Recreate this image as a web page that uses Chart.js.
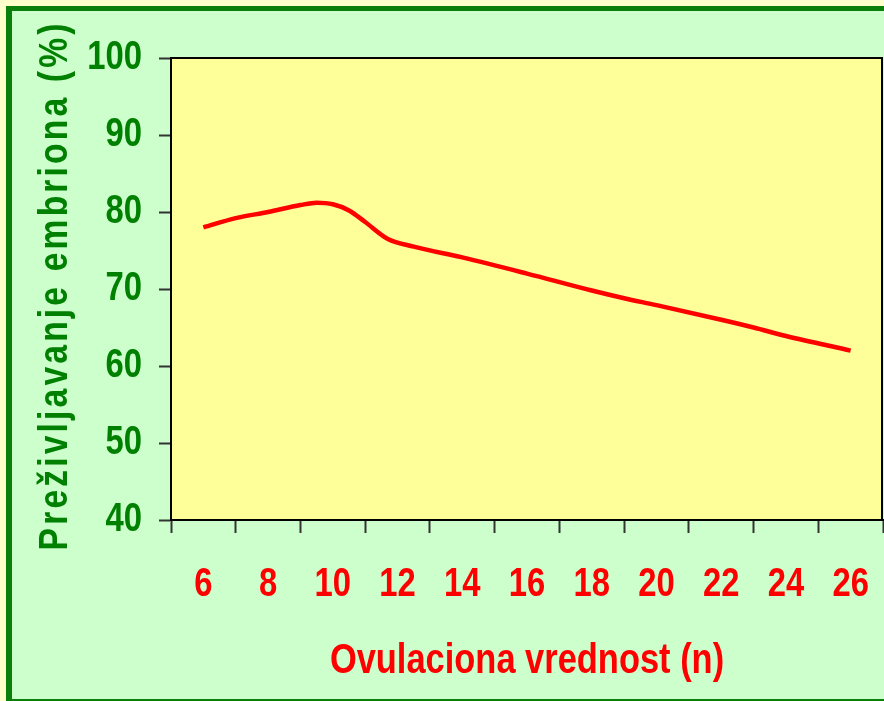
<!DOCTYPE html>
<html>
<head>
<meta charset="utf-8">
<script src="https://cdn.jsdelivr.net/npm/chart.js@4.4.1/dist/chart.umd.min.js"></script>
<style>
    html, body { margin: 0; padding: 0; background: #FFFFCC; overflow: hidden; }
    #okvir {
        position: absolute; left: 6px; top: 6px; width: 900px; height: 688px;
        background: #CCFFCC;
        border-left: 6px solid #0A800A; border-top: 5px solid #0A800A; border-bottom: 2px solid #0A800A;
    }
    #grafikWrap { position: absolute; left: 0; top: 0; width: 884px; height: 701px; }
</style>
</head>
<body>
<div id="okvir"></div>
<div id="grafikWrap"><canvas id="prezivljavanjeChart"></canvas></div>
<script>
// Ovulaciona vrednost (n) i preživljavanje embriona (%) očitano sa slike
const ovulacija = [6, 7, 8, 9, 9.5, 10, 10.5, 11, 11.7, 12.5, 14, 16, 18, 19, 20, 22, 23, 24, 26];
const prezivljavanje = [78.0, 79.2, 80.0, 80.9, 81.2, 81.0, 80.2, 78.7, 76.5, 75.5, 74.1, 72.0, 69.8, 68.8, 67.9, 66.0, 65.0, 63.9, 62.0];

const xOpseg = [5, 27];
const yOpseg = [40, 100];
const yKorak = 10;

const naslovX = 'Ovulaciona vrednost (n)';
const naslovY = 'Preživljavanje embriona (%)';

const ZELENA = '#008000';
const CRVENA = '#FF0000';
const FONT = "'Liberation Sans', Arial, sans-serif";
const SUZENJE = 0.82; // nema "Arial Narrow" pa tekst sužavam horizontalno

// Sav tekst na grafiku je uzak (Arial Narrow stil)
const uzakTekstPlugin = {
    id: 'uzakTekst',
    beforeInit(chart) {
        const ctx = chart.ctx;
        const orig = ctx.fillText;
        ctx.fillText = function (text, x, y, maxWidth) {
            this.save();
            this.translate(x, y);
            this.scale(SUZENJE, 1);
            if (maxWidth === undefined) orig.call(this, text, 0, 0);
            else orig.call(this, text, 0, 0, maxWidth / SUZENJE);
            this.restore();
        };
    }
};

// Žuta pozadina površine grafika, okvir i naslov Y ose
const pozadinaPlugin = {
    id: 'pozadina',
    beforeDraw(chart) {
        const { ctx, chartArea: a } = chart;
        ctx.save();
        ctx.fillStyle = '#FFFF99';
        ctx.fillRect(a.left, a.top, a.right - a.left, a.bottom - a.top);
        ctx.restore();
    },
    afterDraw(chart) {
        const { ctx, chartArea: a } = chart;
        ctx.save();
        ctx.strokeStyle = '#000';
        ctx.lineWidth = 2;
        ctx.beginPath();
        ctx.moveTo(a.left, a.top);
        ctx.lineTo(a.right - 1, a.top);
        ctx.lineTo(a.right - 1, a.bottom);
        ctx.stroke();

        // naslov Y ose sa proredom slova
        ctx.fillStyle = ZELENA;
        ctx.font = 'bold 41px ' + FONT;
        const w = ctx.measureText(naslovY).width;
        const razmak = (530 / SUZENJE - w) / naslovY.length;
        ctx.letterSpacing = razmak + 'px';
        ctx.translate(67, 287);
        ctx.rotate(-Math.PI / 2);
        ctx.textAlign = 'center';
        ctx.textBaseline = 'alphabetic';
        ctx.fillText(naslovY, razmak * SUZENJE / 2, 0);
        ctx.restore();
    }
};

new Chart(document.getElementById('prezivljavanjeChart'), {
    type: 'line',
    data: {
        datasets: [{
            data: ovulacija.map((x, i) => ({ x: x, y: prezivljavanje[i] })),
            borderColor: CRVENA,
            borderWidth: 4.5,
            pointRadius: 0,
            cubicInterpolationMode: 'monotone',
            fill: false
        }]
    },
    options: {
        responsive: true,
        maintainAspectRatio: false,
        animation: false,
        layout: { padding: { top: 58, right: 1, left: 0, bottom: 0 } },
        plugins: { legend: { display: false }, tooltip: { enabled: false } },
        scales: {
            x: {
                type: 'linear',
                min: xOpseg[0],
                max: xOpseg[1],
                afterFit: s => { s.height = 181; s.paddingLeft = 0; s.paddingRight = 0; },
                border: { display: true, color: '#000', width: 2 },
                grid: {
                    drawOnChartArea: false,
                    drawTicks: true,
                    tickLength: 13,
                    tickWidth: 2,
                    tickColor: c => (c.tick && c.tick.value % 2 !== 0) ? '#333' : 'rgba(0,0,0,0)'
                },
                ticks: {
                    stepSize: 1,
                    autoSkip: false,
                    maxTicksLimit: 40,
                    maxRotation: 0,
                    padding: 28,
                    color: CRVENA,
                    font: { family: FONT, size: 40, weight: 'bold' },
                    callback: v => (v % 2 === 0 ? String(v) : '')
                },
                title: {
                    display: true,
                    text: naslovX,
                    color: CRVENA,
                    font: { family: FONT, size: 42, weight: 'bold' },
                    padding: { top: 0, bottom: 14 }
                }
            },
            y: {
                min: yOpseg[0],
                max: yOpseg[1],
                afterFit: s => { s.width = 171; s.paddingTop = 0; s.paddingBottom = 0; },
                border: { display: true, color: '#000', width: 2 },
                grid: {
                    drawOnChartArea: false,
                    drawTicks: true,
                    tickLength: 12,
                    tickWidth: 2,
                    tickColor: '#333'
                },
                ticks: {
                    stepSize: yKorak,
                    padding: 17,
                    color: ZELENA,
                    font: { family: FONT, size: 40, weight: 'bold' }
                }
            }
        }
    },
    plugins: [uzakTekstPlugin, pozadinaPlugin]
});
</script>
</body>
</html>
